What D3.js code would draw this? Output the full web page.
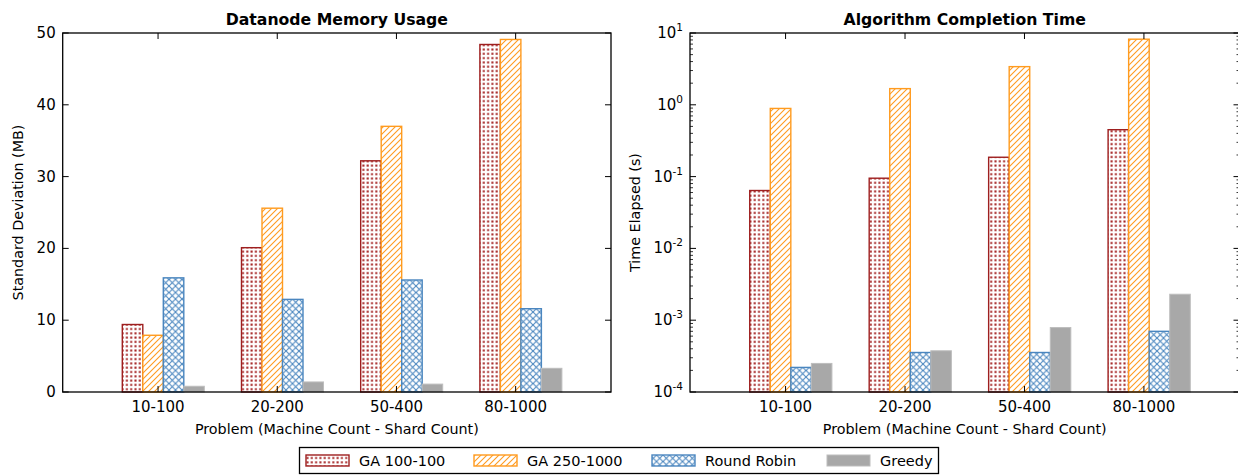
<!DOCTYPE html>
<html>
<head>
<meta charset="utf-8">
<script src="https://d3js.org/d3.v7.min.js"></script>
<style>
  body { margin: 0; background: #fff; }
  text { font-family: "DejaVu Sans", sans-serif; fill: #000; }
</style>
</head>
<body>
<div id="chart"></div>
<script>
let width = 1238;
let height = 475;

// data
const categories = ["10-100", "20-200", "50-400", "80-1000"];
const seriesNames = ["GA 100-100", "GA 250-1000", "Round Robin", "Greedy"];

const memGA100 = [9.4, 20.1, 32.2, 48.4];
const memGA250 = [7.9, 25.6, 37.0, 49.1];
const memRR = [15.9, 12.9, 15.6, 11.6];
const memGreedy = [0.8, 1.4, 1.1, 3.3];

const timeGA100 = [0.064, 0.095, 0.186, 0.45];
const timeGA250 = [0.89, 1.68, 3.4, 8.2];
const timeRR = [0.00022, 0.000355, 0.000355, 0.0007];
const timeGreedy = [0.00025, 0.000375, 0.00079, 0.0023];

const memTicks = [0, 10, 20, 30, 40, 50];
const timeTicks = [-4, -3, -2, -1, 0, 1];

const fills = ["url(#dots)", "url(#diag)", "url(#cross)", "#a8a8a8"];
const strokes = ["#9e1f1f", "#ff9b1f", "#4a86bf", "#bdbdbd"];

let svg = d3.select("#chart")
    .append("svg")
    .attr("width", width)
    .attr("height", height);

// hatch patterns
let defs = svg.append("defs");

let dots = defs.append("pattern")
    .attr("id", "dots")
    .attr("patternUnits", "userSpaceOnUse")
    .attr("width", 4.3).attr("height", 4.3);
dots.append("rect").attr("width", 4.3).attr("height", 4.3).attr("fill", "#fff");
dots.append("rect").attr("x", 1.2).attr("y", 1.2).attr("width", 2).attr("height", 2).attr("fill", "#a32020");

let diag = defs.append("pattern")
    .attr("id", "diag")
    .attr("patternUnits", "userSpaceOnUse")
    .attr("width", 6).attr("height", 6);
diag.append("rect").attr("width", 6).attr("height", 6).attr("fill", "#fff");
diag.append("path")
    .attr("d", "M0,6 L6,0 M-1,1 L1,-1 M5,7 L7,5")
    .attr("stroke", "#ff9b1f")
    .attr("stroke-width", 1.1);

let cross = defs.append("pattern")
    .attr("id", "cross")
    .attr("patternUnits", "userSpaceOnUse")
    .attr("width", 6.5).attr("height", 6.5);
cross.append("rect").attr("width", 6.5).attr("height", 6.5).attr("fill", "#fff");
cross.append("path")
    .attr("d", "M0,6.5 L6.5,0 M0,0 L6.5,6.5")
    .attr("stroke", "#4a86bf")
    .attr("stroke-width", 1.1);

const barOffset = -0.3;
const barWidth = 0.172;

function drawPanel(opts) {
    let g = svg.append("g");
    let x = d3.scaleLinear().domain([-0.8, 3.8]).range([opts.left, opts.right]);
    let y = opts.y;
    let top = 33, bottom = 392;

    // bars
    opts.series.forEach((vals, s) => {
        g.append("g")
            .selectAll("rect")
            .data(vals)
            .join("rect")
            .attr("x", (d, i) => x(i + barOffset + s * barWidth))
            .attr("width", x(barWidth) - x(0))
            .attr("y", d => y(d))
            .attr("height", d => y(opts.base) - y(d))
            .attr("fill", fills[s])
            .attr("stroke", strokes[s])
            .attr("stroke-width", s === 3 ? 1 : 1.4);
    });

    // frame
    g.append("rect")
        .attr("x", opts.left).attr("y", top)
        .attr("width", opts.right - opts.left)
        .attr("height", bottom - top)
        .attr("fill", "none")
        .attr("stroke", "#000")
        .attr("stroke-width", 1.3);

    // category ticks, inward on top and bottom
    categories.forEach((c, i) => {
        let px = x(i);
        g.append("line").attr("x1", px).attr("x2", px).attr("y1", top).attr("y2", top + 6)
            .attr("stroke", "#000");
        g.append("line").attr("x1", px).attr("x2", px).attr("y1", bottom).attr("y2", bottom - 6)
            .attr("stroke", "#000");
        g.append("text")
            .attr("x", px).attr("y", 412)
            .attr("text-anchor", "middle")
            .style("font-size", "15px")
            .text(c);
    });

    // y ticks
    opts.ticks.forEach(t => {
        let py = y(opts.tickValue(t));
        g.append("line").attr("x1", opts.left).attr("x2", opts.left + 6).attr("y1", py).attr("y2", py)
            .attr("stroke", "#000");
        g.append("line").attr("x1", opts.right).attr("x2", opts.right - 6).attr("y1", py).attr("y2", py)
            .attr("stroke", "#000");
        opts.tickLabel(g.append("text")
            .attr("x", opts.left - 7).attr("y", py + 5)
            .attr("text-anchor", "end")
            .style("font-size", "15px"), t);
    });

    if (opts.minor) {
        opts.minor.forEach(v => {
            let py = y(v);
            g.append("line").attr("x1", opts.left).attr("x2", opts.left + 3).attr("y1", py).attr("y2", py)
                .attr("stroke", "#000").attr("stroke-width", 0.8);
            g.append("line").attr("x1", opts.right).attr("x2", opts.right - 3).attr("y1", py).attr("y2", py)
                .attr("stroke", "#000").attr("stroke-width", 0.8);
        });
    }

    let cx = (opts.left + opts.right) / 2;
    g.append("text")
        .attr("x", cx).attr("y", 25)
        .attr("text-anchor", "middle")
        .style("font-size", "15.7px")
        .style("font-weight", "bold")
        .text(opts.title);

    g.append("text")
        .attr("x", cx).attr("y", 434)
        .attr("text-anchor", "middle")
        .style("font-size", "14.3px")
        .text("Problem (Machine Count - Shard Count)");

    g.append("text")
        .attr("transform", "translate(" + opts.ylabelX + "," + ((top + bottom) / 2) + ") rotate(-90)")
        .attr("text-anchor", "middle")
        .style("font-size", "14.3px")
        .text(opts.ylabel);
}

// left panel: memory
drawPanel({
    left: 62.7, right: 611,
    y: d3.scaleLinear().domain([0, 50]).range([392, 33]),
    base: 0,
    series: [memGA100, memGA250, memRR, memGreedy],
    ticks: memTicks,
    tickValue: t => t,
    tickLabel: (el, t) => el.text(t),
    title: "Datanode Memory Usage",
    ylabel: "Standard Deviation (MB)",
    ylabelX: 23
});

// right panel: time, log scale
let minorTicks = [];
for (let e = -4; e < 1; e++) {
    for (let m = 2; m < 10; m++) minorTicks.push(m * Math.pow(10, e));
}

drawPanel({
    left: 690, right: 1239.5,
    y: d3.scaleLog().domain([1e-4, 10]).range([392, 33]),
    base: 1e-4,
    series: [timeGA100, timeGA250, timeRR, timeGreedy],
    ticks: timeTicks,
    tickValue: t => Math.pow(10, t),
    tickLabel: (el, t) => {
        el.append("tspan").text("10");
        el.append("tspan")
            .attr("dy", -7)
            .style("font-size", "10.5px")
            .text(t < 0 ? "-" + (-t) : String(t));
    },
    minor: minorTicks,
    title: "Algorithm Completion Time",
    ylabel: "Time Elapsed (s)",
    ylabelX: 640
});

// legend
let legend = svg.append("g");
legend.append("rect")
    .attr("x", 299.5).attr("y", 447.5)
    .attr("width", 639).attr("height", 26)
    .attr("fill", "#fff")
    .attr("stroke", "#000")
    .attr("stroke-width", 1.3);

const legendX = [306, 474, 652, 827];
seriesNames.forEach((name, s) => {
    legend.append("rect")
        .attr("x", legendX[s]).attr("y", 455)
        .attr("width", 43).attr("height", 11)
        .attr("fill", fills[s])
        .attr("stroke", strokes[s])
        .attr("stroke-width", s === 3 ? 1 : 1.4);
    legend.append("text")
        .attr("x", legendX[s] + 53).attr("y", 466)
        .style("font-size", "14.5px")
        .text(name);
});
</script>
</body>
</html>
